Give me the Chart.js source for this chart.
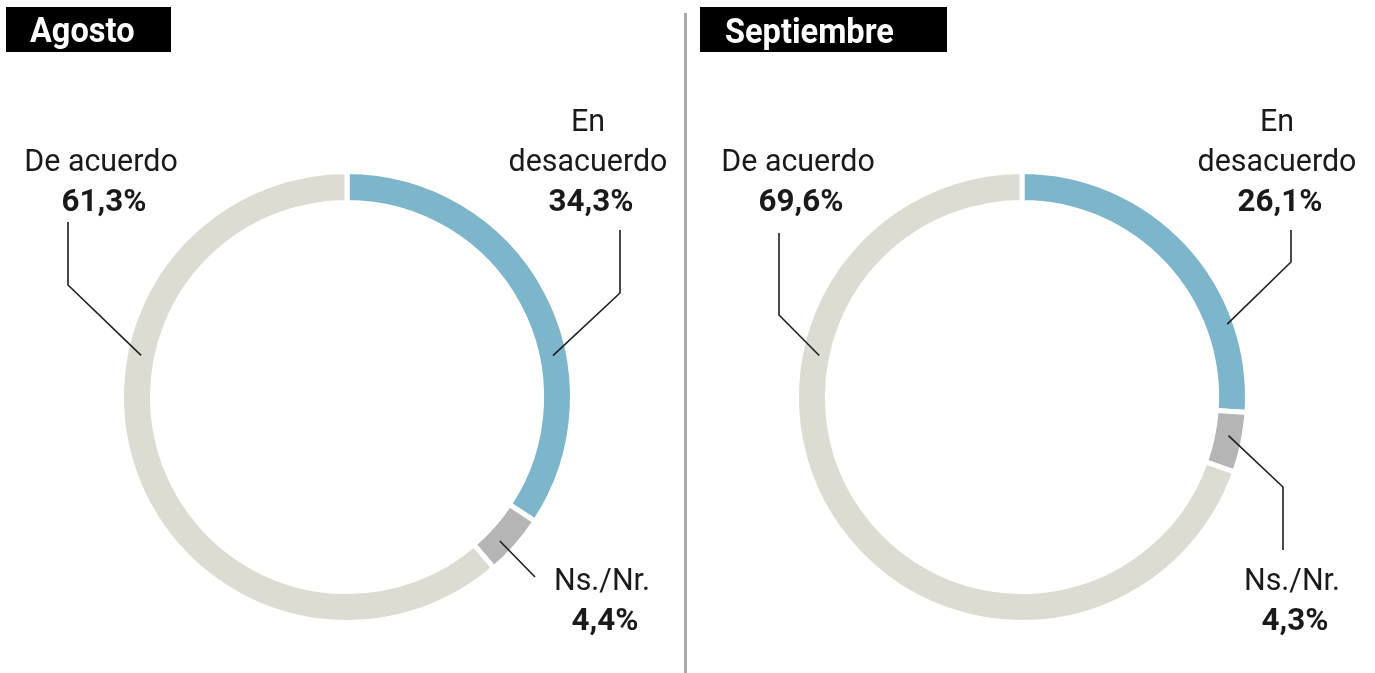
<!DOCTYPE html>
<html lang="es">
<head>
  <meta charset="UTF-8" />
  <title>Agosto / Septiembre</title>
  <style>
    * { box-sizing: border-box; margin: 0; padding: 0; }
    body, html { width: 1375px; height: 673px; background: #fff; overflow: hidden; }
    .wrap { position: relative; width: 1375px; height: 673px; }
    canvas { position: absolute; top: 0; }
    #chartAgo { left: 0; }
    #chartSep { left: 686px; }
    .divider {
      position: absolute; left: 684px; top: 13px;
      width: 3px; height: 660px; background: #a9a9a9;
    }
  </style>
</head>
<body>
  <div class="wrap">
    <canvas id="chartAgo" width="686" height="673"></canvas>
    <div class="divider"></div>
    <canvas id="chartSep" width="689" height="673"></canvas>
  </div>

  <script src="https://cdn.jsdelivr.net/npm/chart.js"></script>
  <script>
    // data
    const categories = ['En desacuerdo', 'Ns./Nr.', 'De acuerdo'];
    const agostoValues = [34.3, 4.4, 61.3];
    const septiembreValues = [26.1, 4.3, 69.6];
    const sliceColors = ['#7db6ca', '#b5b5b5', '#dcdcd2'];

    const fmt = v => v.toFixed(1).replace('.', ',') + '%';

    // squeeze: horizontal scale to get closer to the condensed font of the original
    function drawText(ctx, text, x, y, font, squeeze, align) {
      ctx.save();
      ctx.font = font;
      ctx.textAlign = align || 'center';
      ctx.textBaseline = 'alphabetic';
      ctx.translate(x, y);
      ctx.scale(squeeze, 1);
      ctx.fillText(text, 0, 0);
      ctx.restore();
    }

    // titles, labels and leader lines
    const donutLabels = {
      id: 'donutLabels',
      afterDraw(chart, args, opts) {
        const ctx = chart.ctx;
        const meta = chart.getDatasetMeta(0);
        const values = chart.data.datasets[0].data;

        // title box
        const t = opts.title;
        ctx.fillStyle = '#000';
        ctx.fillRect(t.box[0], t.box[1], t.box[2], t.box[3]);
        ctx.fillStyle = '#fff';
        drawText(ctx, t.text, t.x, t.y, 'bold 35px Roboto', 0.93, 'left');

        opts.labels.forEach(lb => {
          const arc = meta.data[lb.index];
          const p = arc.getProps(['x', 'y', 'startAngle', 'endAngle', 'innerRadius', 'outerRadius'], true);
          const ang = p.startAngle + lb.t * (p.endAngle - p.startAngle);
          const r = p.innerRadius + (lb.rf === undefined ? 0.5 : lb.rf) * (p.outerRadius - p.innerRadius);
          const ax = p.x + r * Math.cos(ang);
          const ay = p.y + r * Math.sin(ang);

          ctx.save();
          ctx.strokeStyle = '#1e1e1e';
          ctx.lineWidth = 1.6;
          ctx.beginPath();
          ctx.moveTo(ax, ay);
          lb.path.forEach(pt => ctx.lineTo(pt[0], pt[1]));
          ctx.stroke();
          ctx.restore();

          ctx.fillStyle = '#1a1a1a';
          let y = lb.y;
          lb.lines.forEach(line => {
            drawText(ctx, line, lb.x, y, '32px Roboto', 0.95);
            y += 40;
          });
          drawText(ctx, fmt(values[lb.index]), lb.x + 3, y, 'bold 32px Roboto', 0.98);
        });
      }
    };

    function makeDonut(id, values, pad, title, labels) {
      return new Chart(document.getElementById(id), {
        type: 'doughnut',
        data: {
          labels: categories,
          datasets: [{
            data: values,
            backgroundColor: sliceColors,
            borderColor: '#fff',
            borderWidth: 5
          }]
        },
        options: {
          responsive: false,
          animation: false,
          cutout: '86.3%',
          layout: { padding: pad },
          plugins: {
            legend: { display: false },
            tooltip: { enabled: false },
            donutLabels: { title: title, labels: labels }
          }
        },
        plugins: [donutLabels]
      });
    }

    makeDonut('chartAgo', agostoValues,
      { left: 119, right: 111, top: 169, bottom: 48 },
      { text: 'Agosto', box: [6, 7, 165, 45], x: 30, y: 42 },
      [
        { index: 2, t: 0.644, lines: ['De acuerdo'], x: 101, y: 171, path: [[68, 285], [68, 222]] },
        { index: 0, t: 0.637, lines: ['En', 'desacuerdo'], x: 588, y: 131, path: [[620, 293], [620, 230]] },
        { index: 1, t: 0.62, lines: ['Ns./Nr.'], x: 602, y: 590, path: [[535, 577]] }
      ]);

    makeDonut('chartSep', septiembreValues,
      { left: 108, right: 125, top: 169, bottom: 48 },
      { text: 'Septiembre', box: [14, 7, 247, 45], x: 39, y: 43 },
      [
        { index: 2, t: 0.687, rf: 0.4, lines: ['De acuerdo'], x: 112, y: 171, path: [[93, 315], [93, 233]] },
        { index: 0, t: 0.75, rf: 0.75, lines: ['En', 'desacuerdo'], x: 591, y: 131, path: [[605, 262], [605, 230]] },
        { index: 1, t: 0.43, lines: ['Ns./Nr.'], x: 606, y: 590, path: [[597, 487], [597, 550]] }
      ]);
  </script>
</body>
</html>
